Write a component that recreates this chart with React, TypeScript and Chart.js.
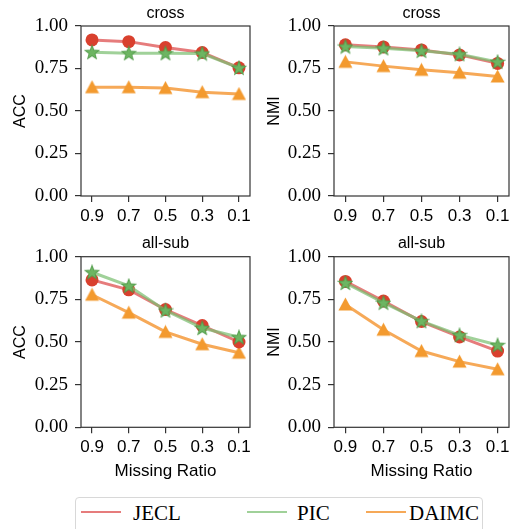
import React, { useEffect, useRef } from "react";
import { Chart, registerables } from "chart.js";
Chart.register(...registerables);

// ---------- data ----------
const missingRatios = ["0.9", "0.7", "0.5", "0.3", "0.1"];
const yTickValues = [0, 0.25, 0.5, 0.75, 1.0];
const methods = ["JECL", "PIC", "DAIMC"];

const crossAccJECL = [0.918, 0.908, 0.873, 0.844, 0.754];
const crossAccPIC = [0.846, 0.84, 0.84, 0.838, 0.754];
const crossAccDAIMC = [0.64, 0.64, 0.635, 0.611, 0.6];

const crossNmiJECL = [0.889, 0.877, 0.859, 0.83, 0.78];
const crossNmiPIC = [0.879, 0.869, 0.854, 0.834, 0.789];
const crossNmiDAIMC = [0.789, 0.764, 0.742, 0.725, 0.703];

const allsubAccJECL = [0.864, 0.806, 0.69, 0.596, 0.5];
const allsubAccPIC = [0.909, 0.829, 0.685, 0.582, 0.528];
const allsubAccDAIMC = [0.777, 0.672, 0.559, 0.487, 0.437];

const allsubNmiJECL = [0.855, 0.74, 0.62, 0.53, 0.447];
const allsubNmiPIC = [0.846, 0.73, 0.622, 0.54, 0.482];
const allsubNmiDAIMC = [0.72, 0.572, 0.447, 0.385, 0.34];

// ---------- styles ----------
const markerColors = { JECL: "#d9402e", PIC: "#6db562", DAIMC: "#f39a2f" };
const lineColors = {
  JECL: "rgba(222,80,80,0.75)",
  PIC: "rgba(120,190,110,0.7)",
  DAIMC: "rgba(245,160,70,0.9)",
};
const SANS = "'Liberation Sans', Arial, sans-serif";
const SERIF = "'Liberation Serif', 'Times New Roman', serif";

function makeStar(size: number, fill: string, stroke: string) {
  const c = document.createElement("canvas");
  c.width = size * 2;
  c.height = size * 2;
  const ctx = c.getContext("2d")!;
  ctx.scale(2, 2);
  const cx = size / 2, cy = size / 2 + 0.5;
  const R = size / 2 - 0.5, r = R * 0.42;
  ctx.beginPath();
  for (let i = 0; i < 10; i++) {
    const a = -Math.PI / 2 + (i * Math.PI) / 5;
    const rr = i % 2 === 0 ? R : r;
    const x = cx + rr * Math.cos(a), y = cy + rr * Math.sin(a);
    if (i === 0) ctx.moveTo(x, y); else ctx.lineTo(x, y);
  }
  ctx.closePath();
  ctx.fillStyle = fill;
  ctx.fill();
  ctx.lineWidth = 0.8;
  ctx.strokeStyle = stroke;
  ctx.stroke();
  const img = new Image(size, size);
  img.src = c.toDataURL();
  return img;
}

function makeTriangle(size: number, fill: string) {
  const c = document.createElement("canvas");
  c.width = size * 2;
  c.height = size * 2;
  const ctx = c.getContext("2d")!;
  ctx.scale(2, 2);
  ctx.beginPath();
  ctx.moveTo(size / 2, 0.5);
  ctx.lineTo(size - 0.5, size - 1.5);
  ctx.lineTo(0.5, size - 1.5);
  ctx.closePath();
  ctx.fillStyle = fill;
  ctx.fill();
  const img = new Image(size, size);
  img.src = c.toDataURL();
  return img;
}

const boxPlugin = {
  id: "box",
  beforeDatasetsDraw(chart: any) {
    const { ctx, chartArea } = chart;
    const { left, top, right, bottom } = chartArea;
    ctx.save();
    ctx.strokeStyle = "#333";
    ctx.lineWidth = 1.2;
    ctx.strokeRect(left, top, right - left, bottom - top);
    ctx.restore();
  },
};

const panelTitlePlugin = {
  id: "panelTitle",
  afterDraw(chart: any, _args: any, opts: any) {
    const { ctx, chartArea } = chart;
    ctx.save();
    ctx.fillStyle = "#000";
    ctx.font = `16px ${SANS}`;
    ctx.textAlign = "center";
    ctx.textBaseline = "alphabetic";
    ctx.fillText(opts.text, (chartArea.left + chartArea.right) / 2, opts.baseline);
    ctx.restore();
  },
};

type Panel = {
  title: string;
  yLabel: string;
  xLabel: string | null;
  series: number[][];
  left: number;
  top: number;
  width: number;
  height: number;
  yWidth: number;
  xHeight: number;
  areaTop: number;
  titleBaseline: number;
  yTitleTop: number;
  padRight: number;
};

const panels: Panel[] = [
  { title: "cross", yLabel: "ACC", xLabel: null, series: [crossAccJECL, crossAccPIC, crossAccDAIMC],
    left: 0, top: 0, width: 258, height: 228, yWidth: 81, xHeight: 32, areaTop: 26, titleBaseline: 17.5, yTitleTop: 10, padRight: 2 },
  { title: "cross", yLabel: "NMI", xLabel: null, series: [crossNmiJECL, crossNmiPIC, crossNmiDAIMC],
    left: 258, top: 0, width: 259, height: 228, yWidth: 76, xHeight: 32, areaTop: 26, titleBaseline: 17.5, yTitleTop: 6.4, padRight: 6.5 },
  { title: "all-sub", yLabel: "ACC", xLabel: "Missing Ratio", series: [allsubAccJECL, allsubAccPIC, allsubAccDAIMC],
    left: 0, top: 228, width: 258, height: 262, yWidth: 81, xHeight: 62.7, areaTop: 28.7, titleBaseline: 20, yTitleTop: 10, padRight: 2 },
  { title: "all-sub", yLabel: "NMI", xLabel: "Missing Ratio", series: [allsubNmiJECL, allsubNmiPIC, allsubNmiDAIMC],
    left: 258, top: 228, width: 259, height: 262, yWidth: 76, xHeight: 62.7, areaTop: 28.7, titleBaseline: 20, yTitleTop: 6.4, padRight: 6.5 },
];

function PanelChart({ p }: { p: Panel }) {
  const ref = useRef<HTMLCanvasElement>(null);
  useEffect(() => {
    const star = makeStar(16, markerColors.PIC, "#4f9a48");
    const tri = makeTriangle(15, markerColors.DAIMC);
    const styles: any = { JECL: "circle", PIC: star, DAIMC: tri };
    const radius: any = { JECL: 6.5, PIC: 8, DAIMC: 7.5 };
    const datasets = methods.map((m, k) => ({
      label: m,
      data: p.series[k].map((v, i) => ({ x: i, y: v })),
      borderColor: (lineColors as any)[m],
      backgroundColor: (markerColors as any)[m],
      pointBackgroundColor: (markerColors as any)[m],
      pointBorderColor: (markerColors as any)[m],
      pointBorderWidth: 0,
      borderWidth: 3,
      pointStyle: styles[m],
      pointRadius: radius[m],
      order: m === "PIC" ? 0 : m === "JECL" ? 1 : 2,
    }));
    let chart: Chart | null = null;
    const build = () => {
      if (!ref.current) return;
      chart = new Chart(ref.current, {
        type: "line",
        data: { datasets },
        plugins: [boxPlugin, panelTitlePlugin],
        options: {
          responsive: false,
          animation: false,
          layout: { padding: { left: 0, right: p.padRight, top: p.areaTop, bottom: 0 } },
          plugins: {
            legend: { display: false },
            tooltip: { enabled: false },
            title: { display: false },
            panelTitle: { text: p.title, baseline: p.titleBaseline },
          },
          scales: {
            x: {
              type: "linear",
              min: -0.3,
              max: 4.3,
              afterBuildTicks: (scale: any) => {
                scale.ticks = missingRatios.map((_, i) => ({ value: i }));
              },
              afterFit: (scale: any) => {
                scale.height = p.xHeight;
              },
              ticks: {
                autoSkip: false,
                maxRotation: 0,
                color: "#000",
                padding: 4,
                font: { family: SANS, size: 17 },
                callback: (v: any) => missingRatios[Math.round(Number(v))],
              },
              grid: { display: true, drawOnChartArea: false, drawTicks: true, tickLength: 6, color: "#333", lineWidth: 1.2 },
              border: { display: false },
              title: {
                display: !!p.xLabel,
                text: p.xLabel || "",
                color: "#000",
                font: { family: SANS, size: 17 },
                padding: { top: 0, bottom: 8 },
              },
            },
            y: {
              type: "linear",
              min: 0,
              max: 1,
              afterBuildTicks: (scale: any) => {
                scale.ticks = yTickValues.map((v) => ({ value: v }));
              },
              afterFit: (scale: any) => {
                scale.width = p.yWidth;
              },
              ticks: {
                color: "#000",
                padding: 7,
                font: { family: SERIF, size: 19 },
                callback: (v: any) => Number(v).toFixed(2),
              },
              grid: { display: true, drawOnChartArea: false, drawTicks: true, tickLength: 6, color: "#333", lineWidth: 1.2 },
              border: { display: false },
              title: {
                display: true,
                text: p.yLabel,
                color: "#000",
                font: { family: SANS, size: 16 },
                padding: { top: p.yTitleTop + 1, bottom: 0 },
              },
            },
          },
        } as any,
      });
    };
    let cancelled = false;
    Promise.all(
      [star, tri].map(
        (img) => new Promise<void>((res) => { if (img.complete) res(); else { img.onload = () => res(); img.onerror = () => res(); } })
      )
    ).then(() => { if (!cancelled) build(); });
    return () => {
      cancelled = true;
      if (chart) chart.destroy();
    };
  }, [p]);
  return (
    <canvas
      ref={ref}
      width={p.width}
      height={p.height}
      style={{ position: "absolute", left: p.left, top: p.top, width: p.width, height: p.height }}
    />
  );
}

const legendItems = [
  { name: "JECL", lineLeft: 81, textLeft: 133 },
  { name: "PIC", lineLeft: 247, textLeft: 297 },
  { name: "DAIMC", lineLeft: 366, textLeft: 409 },
];

export default function App() {
  return (
    <div style={{ position: "absolute", left: 0, top: 0, width: 517, height: 529, background: "#fff", overflow: "hidden" }}>
      {panels.map((p, i) => (
        <PanelChart key={i} p={p} />
      ))}
      <div
        style={{
          position: "absolute",
          left: 75,
          top: 497,
          width: 408,
          height: 44,
          border: "1px solid #d8d8d8",
          borderRadius: 4,
          boxSizing: "border-box",
        }}
      />
      {legendItems.map((it) => (
        <React.Fragment key={it.name}>
          <div
            style={{
              position: "absolute",
              left: it.lineLeft,
              top: 510.5,
              width: 40,
              height: 2.5,
              background: (lineColors as any)[it.name],
            }}
          />
          <div
            style={{
              position: "absolute",
              left: it.textLeft,
              top: 500,
              fontFamily: SERIF,
              fontSize: 21,
              lineHeight: "26px",
              color: "#000",
              whiteSpace: "nowrap",
            }}
          >
            {it.name}
          </div>
        </React.Fragment>
      ))}
    </div>
  );
}
